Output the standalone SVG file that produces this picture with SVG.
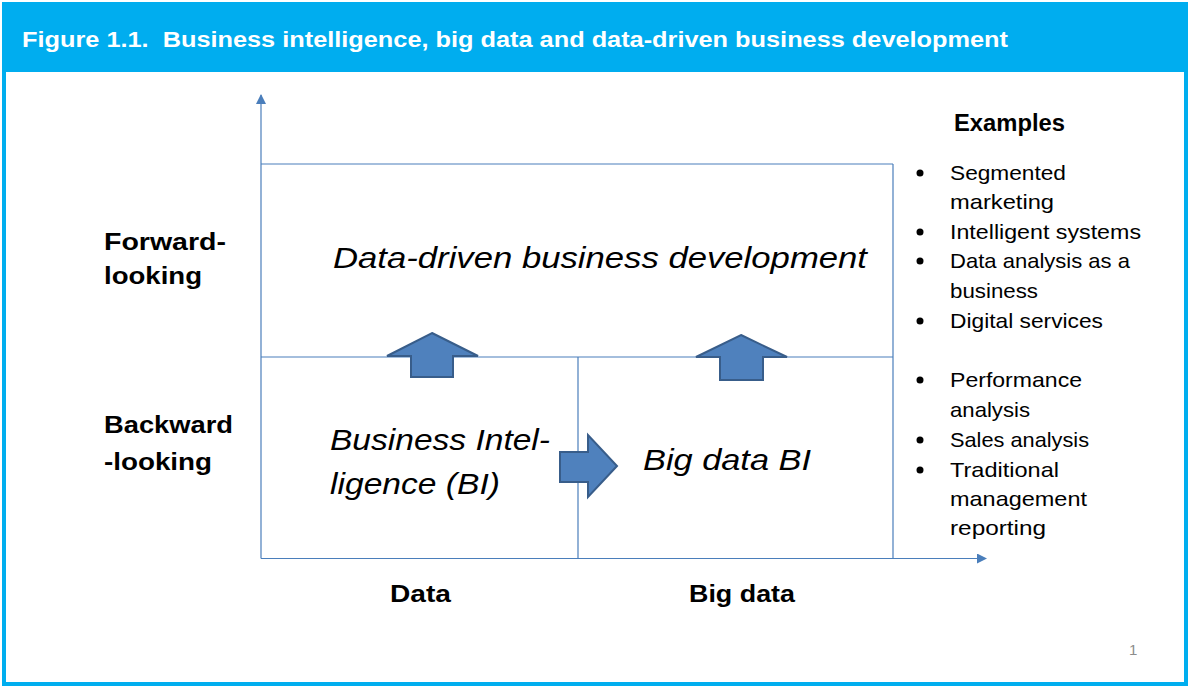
<svg xmlns="http://www.w3.org/2000/svg" width="1188" height="686" viewBox="0 0 1188 686">
<defs>
<style>
.ax{stroke:#4a7ebb;stroke-width:1.2;fill:none}
.up{fill:#4f81bd;stroke:#385d8a;stroke-width:2;stroke-linejoin:miter}
.t{font-family:"Liberation Sans",Arial,sans-serif;fill:#000}
.b{font-weight:bold;font-size:23px}
.i{font-style:italic;font-size:29px}
.l{font-size:21px}
</style>
<marker id="ah" viewBox="0 0 10 10" refX="9" refY="5" markerWidth="10" markerHeight="10" markerUnits="userSpaceOnUse" orient="auto">
<path d="M0,0 L10,5 L0,10 Z" fill="#4a7ebb"/>
</marker>
</defs>
<rect x="0" y="0" width="1188" height="686" fill="#fff"/>
<rect x="4" y="4" width="1182" height="680" fill="none" stroke="#00aeef" stroke-width="4"/>
<g id="header">
<rect x="2" y="2" width="1186" height="70" fill="#00adef"/>
<text class="t" x="22" y="47" font-size="22" font-weight="bold" style="fill:#fff" textLength="986" lengthAdjust="spacingAndGlyphs">Figure 1.1.&#160; Business intelligence, big data and data-driven business development</text>
</g>
<g id="connectors">
<line class="ax" x1="261" y1="558.5" x2="261" y2="95" marker-end="url(#ah)"/>
<line class="ax" x1="261" y1="558.5" x2="986" y2="558.5" marker-end="url(#ah)"/>
<line class="ax" x1="261" y1="164" x2="893" y2="164"/>
<line class="ax" x1="261" y1="357" x2="893" y2="357"/>
<line class="ax" x1="893" y1="164" x2="893" y2="558.5"/>
<line class="ax" x1="578" y1="357" x2="578" y2="558.5"/>
<polygon id="arrow-up-1" class="up" points="432,333 478,356 453,356 453,377 411,377 411,356 387,356"/>
<polygon id="arrow-up-2" class="up" points="741,335 787,357 763,357 763,380 720,380 720,357 696,357"/>
<polygon id="arrow-right" class="up" points="617,466 588,497 588,482 560,482 560,452 588,452 588,435"/>
</g>
<g id="ylabels">
<text class="t b" x="104" y="250" textLength="122" lengthAdjust="spacingAndGlyphs">Forward-</text>
<text class="t b" x="104" y="284" textLength="98" lengthAdjust="spacingAndGlyphs">looking</text>
<text class="t b" x="104" y="433" textLength="129" lengthAdjust="spacingAndGlyphs">Backward</text>
<text class="t b" x="104" y="470" textLength="108" lengthAdjust="spacingAndGlyphs">-looking</text>
</g>
<g id="xlabels">
<text class="t b" x="390" y="602" textLength="61" lengthAdjust="spacingAndGlyphs">Data</text>
<text class="t b" x="689" y="602" textLength="106" lengthAdjust="spacingAndGlyphs">Big data</text>
</g>
<g id="node-dd">
<text class="t i" x="333" y="268" textLength="534" lengthAdjust="spacingAndGlyphs">Data-driven business development</text>
</g>
<g id="node-bi">
<text class="t i" x="330" y="450" textLength="220" lengthAdjust="spacingAndGlyphs">Business Intel-</text>
<text class="t i" x="330" y="494" textLength="170" lengthAdjust="spacingAndGlyphs">ligence (BI)</text>
</g>
<g id="node-bdbi">
<text class="t i" x="643" y="470" textLength="168" lengthAdjust="spacingAndGlyphs">Big data BI</text>
</g>
<g id="examples">
<text class="t b" x="954" y="131" textLength="111" lengthAdjust="spacingAndGlyphs">Examples</text>
<g fill="#000">
<circle cx="920" cy="173" r="3.5"/>
<circle cx="920" cy="232" r="3.5"/>
<circle cx="920" cy="261" r="3.5"/>
<circle cx="920" cy="321" r="3.5"/>
<circle cx="920" cy="380" r="3.5"/>
<circle cx="920" cy="440" r="3.5"/>
<circle cx="920" cy="470" r="3.5"/>
</g>
<text class="t l" x="950" y="180" textLength="116" lengthAdjust="spacingAndGlyphs">Segmented</text>
<text class="t l" x="950" y="209" textLength="104" lengthAdjust="spacingAndGlyphs">marketing</text>
<text class="t l" x="950" y="239" textLength="191" lengthAdjust="spacingAndGlyphs">Intelligent systems</text>
<text class="t l" x="950" y="268" textLength="180" lengthAdjust="spacingAndGlyphs">Data analysis as a</text>
<text class="t l" x="950" y="298" textLength="88" lengthAdjust="spacingAndGlyphs">business</text>
<text class="t l" x="950" y="328" textLength="153" lengthAdjust="spacingAndGlyphs">Digital services</text>
<text class="t l" x="950" y="387" textLength="132" lengthAdjust="spacingAndGlyphs">Performance</text>
<text class="t l" x="950" y="417" textLength="80" lengthAdjust="spacingAndGlyphs">analysis</text>
<text class="t l" x="950" y="447" textLength="139" lengthAdjust="spacingAndGlyphs">Sales analysis</text>
<text class="t l" x="950" y="477" textLength="109" lengthAdjust="spacingAndGlyphs">Traditional</text>
<text class="t l" x="950" y="506" textLength="137" lengthAdjust="spacingAndGlyphs">management</text>
<text class="t l" x="950" y="535" textLength="96" lengthAdjust="spacingAndGlyphs">reporting</text>
</g>
<text x="1129" y="655" font-family="Liberation Sans, Arial, sans-serif" font-size="15" fill="#8c8c8c">1</text>
</svg>
